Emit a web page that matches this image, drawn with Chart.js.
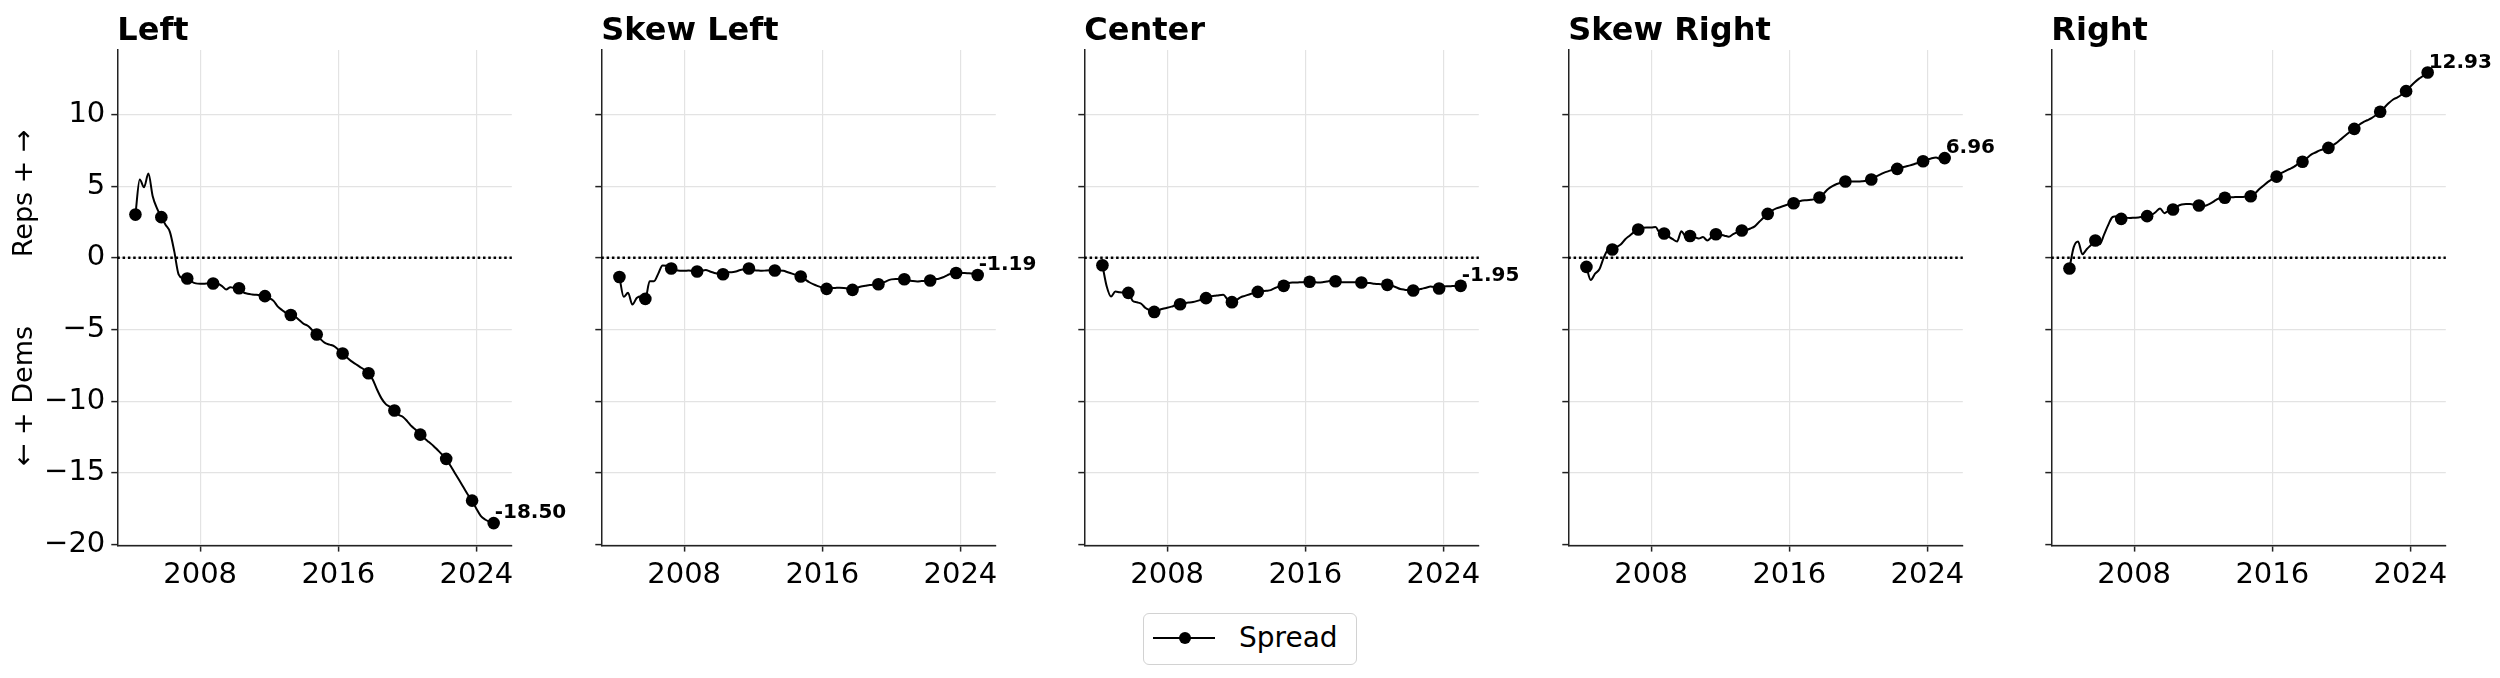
<!DOCTYPE html>
<html>
<head>
<meta charset="utf-8">
<title>Spread</title>
<script src="https://cdn.jsdelivr.net/npm/chart.js@4.4.1/dist/chart.umd.min.js"></script>
<style>
  html, body { margin: 0; padding: 0; background: #fff; }
  body { width: 2500px; height: 678px; position: relative; overflow: hidden; font-family: 'DejaVu Sans', sans-serif; }
  canvas.panel { position: absolute; top: 0; }
  #legend {
    position: absolute; left: 1143px; top: 613px; width: 214px; height: 52px;
    box-sizing: border-box; border: 1.5px solid #d2d2d2; border-radius: 6px; background: #fff;
  }
  #legend .ln { position: absolute; left: 9px; top: 23px; width: 62px; height: 2px; background: #000; }
  #legend .dot { position: absolute; left: 34.5px; top: 18px; width: 12px; height: 12px; border-radius: 50%; background: #000; }
  #legend .lbl { position: absolute; left: 95px; top: 0; line-height: 48px; font-size: 28px; color: #000; }
</style>
</head>
<body>
<div id="legend"><span class="ln"></span><span class="dot"></span><span class="lbl">Spread</span></div>
<script>
// quarterly sample dates (decimal years)
const quarters = [
  2004.25, 2004.5, 2004.75, 2005, 2005.25, 2005.5, 2005.75, 2006, 2006.25, 2006.5, 2006.75, 2007,
  2007.25, 2007.5, 2007.75, 2008, 2008.25, 2008.5, 2008.75, 2009, 2009.25, 2009.5, 2009.75, 2010,
  2010.25, 2010.5, 2010.75, 2011, 2011.25, 2011.5, 2011.75, 2012, 2012.25, 2012.5, 2012.75, 2013,
  2013.25, 2013.5, 2013.75, 2014, 2014.25, 2014.5, 2014.75, 2015, 2015.25, 2015.5, 2015.75, 2016,
  2016.25, 2016.5, 2016.75, 2017, 2017.25, 2017.5, 2017.75, 2018, 2018.25, 2018.5, 2018.75, 2019,
  2019.25, 2019.5, 2019.75, 2020, 2020.25, 2020.5, 2020.75, 2021, 2021.25, 2021.5, 2021.75, 2022,
  2022.25, 2022.5, 2022.75, 2023, 2023.25, 2023.5, 2023.75, 2024, 2024.25, 2024.5, 2024.75, 2025,
];

const leftSpread = [
  3.02, 5.47, 4.93, 5.88, 4.3, 3.45, 2.84, 2.3, 1.8, 0.45, -1.15, -1.4,
  -1.44, -1.65, -1.78, -1.8, -1.8, -1.78, -1.79, -1.8, -1.95, -2.2, -2.05, -2.1,
  -2.12, -2.4, -2.5, -2.55, -2.58, -2.62, -2.67, -2.8, -3.0, -3.4, -3.65, -3.85,
  -3.98, -4.1, -4.35, -4.6, -4.75, -5.05, -5.35, -5.7, -5.95, -6.05, -6.15, -6.4,
  -6.67, -6.95, -7.2, -7.4, -7.6, -7.8, -8.05, -8.5, -9.2, -9.8, -10.2, -10.4,
  -10.65, -10.95, -11.1, -11.4, -11.75, -12.0, -12.33, -12.6, -12.85, -13.1, -13.4, -13.7,
  -14.02, -14.5, -15.0, -15.5, -16.0, -16.5, -16.93, -17.5, -18.0, -18.25, -18.4, -18.5,
];
const skewLeftSpread = [
  -1.33, -2.72, -2.44, -3.26, -2.8, -2.67, -2.86, -1.63, -1.63, -1.1, -0.53, -0.55,
  -0.74, -0.85, -0.9, -0.9, -0.88, -0.92, -0.95, -0.9, -0.85, -0.95, -1.05, -1.1,
  -1.14, -1.0, -1.0, -0.95, -0.85, -0.8, -0.74, -0.85, -0.88, -0.9, -0.88, -0.87,
  -0.88, -0.88, -0.9, -1.0, -1.1, -1.2, -1.3, -1.5, -1.7, -1.85, -1.97, -2.08,
  -2.16, -2.12, -2.1, -2.08, -2.1, -2.15, -2.23, -2.1, -2.0, -1.95, -1.9, -1.87,
  -1.84, -1.75, -1.6, -1.5, -1.47, -1.47, -1.49, -1.58, -1.62, -1.64, -1.62, -1.6,
  -1.58, -1.5, -1.45, -1.35, -1.2, -1.08, -1.05, -1.05, -1.06, -1.08, -1.12, -1.19,
];
const centerSpread = [
  -0.51, -2.0, -2.7, -2.35, -2.4, -2.42, -2.44, -3.0, -3.1, -3.2, -3.5, -3.65,
  -3.77, -3.65, -3.55, -3.48, -3.4, -3.3, -3.23, -3.15, -3.12, -3.08, -3.0, -2.9,
  -2.81, -2.68, -2.65, -2.6, -2.58, -2.9, -3.09, -2.95, -2.75, -2.65, -2.55, -2.45,
  -2.37, -2.33, -2.3, -2.25, -2.1, -2.0, -1.95, -1.78, -1.72, -1.72, -1.7, -1.68,
  -1.67, -1.68, -1.72, -1.7, -1.65, -1.6, -1.63, -1.68, -1.7, -1.7, -1.7, -1.71,
  -1.72, -1.74, -1.76, -1.8, -1.83, -1.85, -1.88, -1.95, -2.05, -2.17, -2.22, -2.25,
  -2.28, -2.22, -2.15, -2.08, -2.0, -2.05, -2.14, -2.0, -1.98, -1.97, -1.96, -1.95,
];
const skewRightSpread = [
  -0.63, -1.55, -1.1, -0.8, 0.0, 0.55, 0.58, 0.75, 0.95, 1.3, 1.55, 1.8,
  1.98, 2.1, 2.12, 2.12, 2.15, 1.75, 1.7, 1.5, 1.3, 1.15, 1.85, 1.5,
  1.53, 1.45, 1.35, 1.45, 1.22, 1.45, 1.65, 1.62, 1.55, 1.48, 1.65, 1.8,
  1.91, 1.95, 2.05, 2.2, 2.5, 2.8, 3.07, 3.3, 3.45, 3.55, 3.65, 3.75,
  3.81, 3.92, 4.0, 4.02, 4.05, 4.1, 4.21, 4.5, 4.8, 5.0, 5.15, 5.25,
  5.33, 5.35, 5.32, 5.32, 5.35, 5.4, 5.47, 5.65, 5.8, 5.95, 6.05, 6.15,
  6.21, 6.3, 6.38, 6.45, 6.55, 6.65, 6.74, 6.85, 6.95, 7.0, 6.9, 6.96,
];
const rightSpread = [
  -0.74, 0.75, 1.15, 0.25, 0.6, 0.9, 1.21, 0.95, 1.6, 2.3, 2.85, 2.9,
  2.72, 2.8, 2.78, 2.8, 2.82, 2.87, 2.91, 3.0, 3.2, 3.45, 3.12, 3.3,
  3.37, 3.6, 3.72, 3.75, 3.75, 3.7, 3.65, 3.6, 3.7, 3.85, 4.05, 4.18,
  4.19, 4.22, 4.23, 4.25, 4.25, 4.28, 4.3, 4.5, 4.8, 5.05, 5.3, 5.5,
  5.67, 5.9, 6.05, 6.2, 6.35, 6.55, 6.7, 6.95, 7.2, 7.35, 7.5, 7.6,
  7.67, 7.85, 8.05, 8.3, 8.55, 8.8, 9.0, 9.25, 9.45, 9.6, 9.75, 9.95,
  10.19, 10.5, 10.8, 11.05, 11.2, 11.4, 11.63, 11.95, 12.25, 12.5, 12.7, 12.93,
];

const panelTitles = ['Left', 'Skew Left', 'Center', 'Skew Right', 'Right'];
const panelSeries = [leftSpread, skewLeftSpread, centerSpread, skewRightSpread, rightSpread];
const xTicks = [2008, 2016, 2024];
const yTicks = [-20, -15, -10, -5, 0, 5, 10];
const yAxisLabel = '\u2190 + Dems        Reps + \u2192';

const FONT = "'DejaVu Sans', sans-serif";
const gridColor = '#e3e3e3';
const axisColor = '#222';

// geometry (px)
const PANEL_STEP = 483.5;
const CANVAS_W = 602;
const AXIS_W = 117.3;     // space left of plot area
const PLOT_W = 394.5;
const PLOT_TOP = 50;
const X_AXIS_H = 132.4;

Chart.defaults.font.family = FONT;
Chart.defaults.color = '#000';

const panelDecor = {
  id: 'panelDecor',
  beforeDatasetsDraw(chart) {
    const { ctx, chartArea, scales } = chart;
    const y0 = scales.y.getPixelForValue(0);
    ctx.save();
    ctx.strokeStyle = '#000';
    ctx.lineWidth = 2.5;
    ctx.setLineDash([2.5, 2.8]);
    ctx.beginPath();
    ctx.moveTo(chartArea.left, y0);
    ctx.lineTo(chartArea.right, y0);
    ctx.stroke();
    ctx.restore();
  },
  afterDraw(chart, args, opts) {
    const { ctx, chartArea } = chart;
    ctx.save();
    ctx.fillStyle = '#000';
    ctx.textBaseline = 'alphabetic';
    ctx.textAlign = 'left';
    ctx.font = 'bold 32px ' + FONT;
    ctx.fillText(opts.title, chartArea.left, 40);

    // last value label
    const meta = chart.getDatasetMeta(0);
    const last = meta.data[meta.data.length - 1];
    const vals = chart.data.datasets[0].data;
    ctx.font = 'bold 20px ' + FONT;
    ctx.fillText(vals[vals.length - 1].y.toFixed(2), last.x + 1, last.y - 5);

    if (opts.showYLabel) {
      ctx.font = '27px ' + FONT;
      ctx.textAlign = 'center';
      ctx.textBaseline = 'middle';
      ctx.translate(25, (chartArea.top + chartArea.bottom) / 2);
      ctx.rotate(-Math.PI / 2);
      ctx.fillText(yAxisLabel, 0, 0);
    }
    ctx.restore();
  },
};

panelSeries.forEach((series, i) => {
  const canvas = document.createElement('canvas');
  canvas.className = 'panel';
  canvas.width = CANVAS_W;
  canvas.height = 678;
  canvas.style.left = (i * PANEL_STEP) + 'px';
  canvas.style.width = CANVAS_W + 'px';
  canvas.style.height = '678px';
  document.body.appendChild(canvas);

  const n = series.length;
  new Chart(canvas, {
    type: 'line',
    data: {
      datasets: [{
        label: 'Spread',
        data: quarters.map((q, k) => ({ x: q, y: series[k] })),
        borderColor: '#000',
        borderWidth: 2,
        cubicInterpolationMode: 'monotone',
        pointBackgroundColor: '#000',
        pointBorderWidth: 0,
        pointRadius: ctx => (ctx.dataIndex % 6 === 0 || ctx.dataIndex === n - 1) ? 6.3 : 0,
        pointHoverRadius: 0,
        clip: false,
      }],
    },
    options: {
      responsive: false,
      animation: false,
      events: [],
      layout: { padding: { top: PLOT_TOP, right: CANVAS_W - AXIS_W - PLOT_W, bottom: 0, left: 0 } },
      plugins: {
        legend: { display: false },
        tooltip: { enabled: false },
        panelDecor: { title: panelTitles[i], showYLabel: i === 0 },
      },
      scales: {
        x: {
          type: 'linear',
          min: 2003.2,
          max: 2026.05,
          afterBuildTicks: s => { s.ticks = xTicks.map(v => ({ value: v })); },
          afterFit: s => { s.height = X_AXIS_H; },
          grid: { color: gridColor, lineWidth: 1.2, tickLength: 6, tickColor: axisColor, tickWidth: 1.5 },
          border: { color: axisColor, width: 1.5 },
          ticks: { callback: v => String(v), font: { size: 29 }, color: '#000', padding: 6, maxRotation: 0, autoSkip: false },
        },
        y: {
          min: -20.07,
          max: 14.5,
          afterBuildTicks: s => { s.ticks = yTicks.map(v => ({ value: v })); },
          afterFit: s => { s.width = AXIS_W; },
          grid: { color: gridColor, lineWidth: 1.2, tickLength: 6, tickColor: axisColor, tickWidth: 1.5 },
          border: { color: axisColor, width: 1.5 },
          ticks: {
            display: i === 0,
            callback: v => String(v).replace('-', '\u2212'),
            font: { size: 29 },
            color: '#000',
            padding: 6,
          },
        },
      },
    },
    plugins: [panelDecor],
  });
});
</script>
</body>
</html>
